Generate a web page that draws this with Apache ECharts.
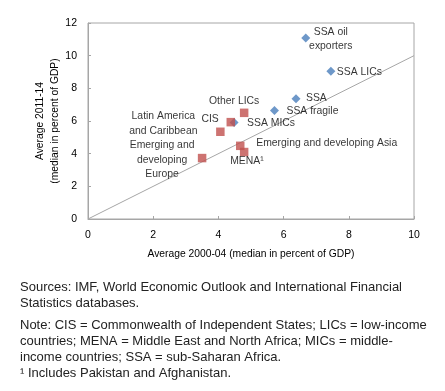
<!DOCTYPE html>
<html>
<head>
<meta charset="utf-8">
<script src="https://cdn.jsdelivr.net/npm/echarts@6/dist/echarts.min.js"></script>
<style>html,body{margin:0;padding:0;background:#fff;}#c{width:445px;height:391px;}</style>
</head>
<body>
<div id="c"></div>
<script>
// Sub-Saharan Africa groups (blue diamonds)
var ssaNames = ['SSA oil\nexporters', 'SSA LICs', 'SSA', 'SSA fragile', 'SSA MICs'];
var ssaX = [6.68, 7.45, 6.38, 5.72, 4.48];
var ssaY = [11.08, 9.05, 7.36, 6.64, 5.91];

// Other regions (red squares)
var otherNames = ['Other LICs', 'CIS', 'Latin America\nand Caribbean', 'Emerging and\ndeveloping\nEurope', 'Emerging and developing Asia', 'MENA\u00b9'];
var otherX = [4.79, 4.38, 4.06, 3.50, 4.67, 4.79];
var otherY = [6.50, 5.93, 5.34, 3.73, 4.48, 4.10];

// 45-degree reference line
var refX = [0, 10];
var refY = [0, 10];

var xTicks = [0, 2, 4, 6, 8, 10];
var yTicks = [0, 2, 4, 6, 8, 10, 12];

var xTitle = 'Average 2000-04 (median in percent of GDP)';
var yTitle = 'Average 2011-14\n(median in percent of GDP)';
var sourcesText = 'Sources: IMF, World Economic Outlook and International Financial\nStatistics databases.';
var noteText = 'Note: CIS = Commonwealth of Independent States; LICs = low-income\ncountries; MENA = Middle East and North Africa; MICs = middle-\nincome countries; SSA = sub-Saharan Africa.\n\u00b9 Includes Pakistan and Afghanistan.';

// label placement (offset from marker centre, alignment)
var ssaLabelPos = [[25, 1, 'center'], [6, 0.5, 'left'], [10, -1, 'left'], [12, 1, 'left'], [13, 1, 'left']];
var otherLabelPos = [[-10, -12, 'center'], [-12, -3, 'right'], [-57, -8, 'center'], [-40, 2, 'center'], [16, -3, 'left'], [-14, 9, 'left']];

var FONT = 'Liberation Sans, Arial, sans-serif';

function build(names, xs, ys, pos) {
  return names.map(function (n, i) {
    return {
      name: n,
      value: [xs[i], ys[i]],
      label: {
        show: true, position: 'inside', formatter: n,
        offset: [pos[i][0], pos[i][1]], align: pos[i][2], verticalAlign: 'middle',
        color: '#000', fontSize: 10.4, lineHeight: 14.5, fontFamily: FONT
      }
    };
  });
}

var chart = echarts.init(document.getElementById('c'), null, {renderer: 'canvas'});
chart.setOption({
  animation: false,
  backgroundColor: '#fff',
  grid: {left: 88, right: 31, top: 23, bottom: 172, show: true, borderColor: '#a6a6a6', borderWidth: 1},
  xAxis: {
    type: 'value', min: 0, max: 10, interval: 2,
    axisLine: {show: true, lineStyle: {color: '#a6a6a6'}},
    axisTick: {show: true, inside: true, length: 3, lineStyle: {color: '#a6a6a6'}},
    splitLine: {show: false},
    axisLabel: {color: '#000', fontSize: 10.5, fontFamily: FONT, margin: 11,
      formatter: function (v) { return xTicks.indexOf(v) >= 0 ? String(v) : ''; }},
    name: xTitle, nameLocation: 'middle', nameGap: 30,
    nameTextStyle: {color: '#000', fontSize: 10.3, fontFamily: FONT}
  },
  yAxis: {
    type: 'value', min: 0, max: 12, interval: 2,
    axisLine: {show: true, lineStyle: {color: '#a6a6a6'}},
    axisTick: {show: true, inside: true, length: 3, lineStyle: {color: '#a6a6a6'}},
    splitLine: {show: false},
    axisLabel: {color: '#000', fontSize: 10.5, fontFamily: FONT, margin: 11,
      formatter: function (v) { return yTicks.indexOf(v) >= 0 ? String(v) : ''; }},
    name: yTitle, nameLocation: 'middle', nameGap: 25, nameRotate: 90, nameMoveOverlap: false,
    nameTextStyle: {color: '#000', fontSize: 10.3, lineHeight: 15, fontFamily: FONT}
  },
  series: [
    {
      type: 'line', data: refX.map(function (x, i) { return [x, refY[i]]; }),
      symbol: 'none', lineStyle: {color: '#a6a6a6', width: 1}, silent: true, z: 1
    },
    {
      type: 'scatter', symbol: 'diamond', symbolSize: 9,
      itemStyle: {color: '#4a7ebb'},
      data: build(ssaNames, ssaX, ssaY, ssaLabelPos), z: 3
    },
    {
      type: 'scatter', symbol: 'rect', symbolSize: 8.5,
      itemStyle: {color: '#c0504d'},
      data: build(otherNames, otherX, otherY, otherLabelPos), z: 3
    }
  ],
  graphic: [
    {type: 'text', left: 20, top: 279, style: {text: sourcesText, fill: '#222', font: '13px Liberation Sans, Arial, sans-serif', lineHeight: 16}},
    {type: 'text', left: 20, top: 318, style: {text: noteText, fill: '#222', font: '13px Liberation Sans, Arial, sans-serif', lineHeight: 15.7}}
  ]
});
</script>
</body>
</html>
